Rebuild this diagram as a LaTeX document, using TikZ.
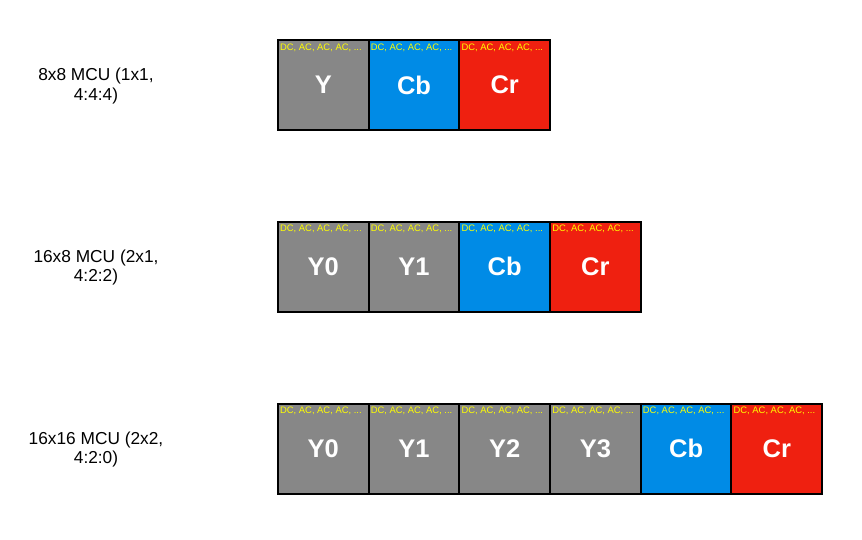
\documentclass[tikz,border=0pt]{standalone}
\usepackage{fontspec}
\setmainfont{Liberation Sans}
\usetikzlibrary{positioning}
\definecolor{lumagray}{HTML}{878787}
\definecolor{chromablue}{HTML}{008BE6}
\definecolor{chromared}{HTML}{EF2010}
\definecolor{coefyellow}{HTML}{FFFF00}
\tikzset{
  blk/.style={draw=black,line width=2pt,minimum width=90.7pt,minimum height=90pt,
    inner sep=0pt,outer sep=0pt,text=white,font=\fontsize{25.5}{30}\selectfont\bfseries},
  lumablk/.style={blk,fill=lumagray},
  cbblk/.style={blk,fill=chromablue},
  crblk/.style={blk,fill=chromared},
  coef/.style={anchor=north west,inner sep=0pt,text=coefyellow,font=\fontsize{9.4}{10}\selectfont},
  mculbl/.style={align=center,font=\fontsize{17.3}{19.5}\selectfont}
}
\begin{document}
\begin{tikzpicture}[x=1pt,y=-1pt]
  \useasboundingbox (0,0) rectangle (862,539);
  % 8x8
  \node[mculbl] (lbla) at (96,86) {8x8 MCU (1x1,\\4:4:4)};
  \node[lumablk] (ay) at (323.3,85) {Y};
  \node[cbblk,right=0pt of ay] (acb) {Cb};
  \node[crblk,right=0pt of acb] (acr) {Cr};
  % 16x8
  \node[mculbl] (lblb) at (96,267.5) {16x8 MCU (2x1,\\4:2:2)};
  \node[lumablk] (by0) at (323.3,266.5) {Y0};
  \node[lumablk,right=0pt of by0] (by1) {Y1};
  \node[cbblk,right=0pt of by1] (bcb) {Cb};
  \node[crblk,right=0pt of bcb] (bcr) {Cr};
  % 16x16
  \node[mculbl] (lblc) at (96,449.5) {16x16 MCU (2x2,\\4:2:0)};
  \node[lumablk] (cy0) at (323.3,448.5) {Y0};
  \node[lumablk,right=0pt of cy0] (cy1) {Y1};
  \node[lumablk,right=0pt of cy1] (cy2) {Y2};
  \node[lumablk,right=0pt of cy2] (cy3) {Y3};
  \node[cbblk,right=0pt of cy3] (ccb) {Cb};
  \node[crblk,right=0pt of ccb] (ccr) {Cr};
  % coefficients
  \foreach \b in {ay,acb,acr,by0,by1,bcb,bcr,cy0,cy1,cy2,cy3,ccb,ccr}
    \node[coef] (\b-dc) at ([xshift=2pt,yshift=-3.3pt]\b.north west) {DC, AC, AC, AC, ...};
\end{tikzpicture}
\end{document}
